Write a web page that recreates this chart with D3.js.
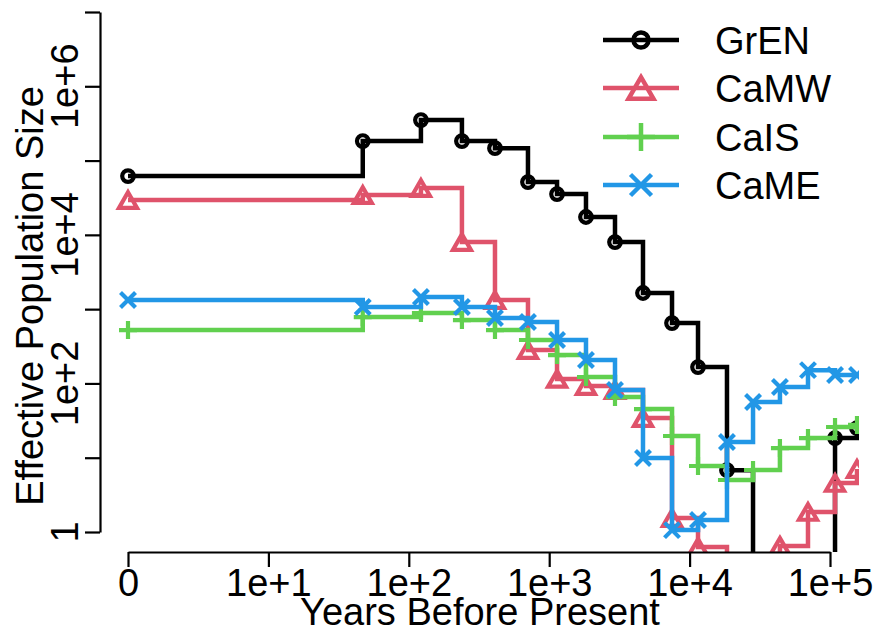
<!DOCTYPE html>
<html>
<head>
<meta charset="utf-8">
<script src="https://cdn.jsdelivr.net/npm/d3@7"></script>
<style>
  body { margin: 0; background: #fff; }
  text { font-family: "Liberation Sans", Arial, Helvetica, sans-serif; fill: #000; }
</style>
</head>
<body>
<svg id="chart" width="883" height="633"></svg>
<script>
// Time grid (years before present; the first step is plotted at 1 and labelled 0)
const years = [1, 47, 122, 239, 411, 706, 1137, 1828, 2942, 4656, 7495, 11480, 18460, 28300, 44000, 69700, 108600, 155700];

// Effective population size per population
const grEN = [61800, 183000, 351000, 183000, 147000, 51400, 35400, 17400, 8000, 1650, 650, 166, 6.8, 0.05, 0.05, 0.05, 18.4, 25];
const caMW = [29400, 34300, 42700, 8000, 1325, 282, 115, 92, 81.5, 34.2, 1.54, 0.63, 0.2, 0.2, 0.65, 1.86, 4.57, 7.05];
const caIS = [523, 783, 887, 713, 523, 384, 241, 122, 65.6, 45.2, 19.6, 7.73, 5.01, 6.83, 13.5, 18.4, 25.9, 27.6];
const caME = [1325, 1067, 1455, 1067, 760, 670, 384, 207, 81.5, 9.9, 1.06, 1.45, 16.3, 56.2, 89.5, 151, 130, 130];

const seriesNames = ["GrEN", "CaMW", "CaIS", "CaME"];
const seriesColors = ["#000000", "#DF536B", "#61D04F", "#2297E6"];
const seriesShapes = ["circle", "triangle", "plus", "cross"];
const seriesValues = [grEN, caMW, caIS, caME];

// Axis ticks
const xTicks = [1, 1e1, 1e2, 1e3, 1e4, 1e5];
const xTickLabels = ["0", "1e+1", "1e+2", "1e+3", "1e+4", "1e+5"];
const yTicks = [1, 1e1, 1e2, 1e3, 1e4, 1e5, 1e6, 1e7];
const yTickLabels = ["1", "", "1e+2", "", "1e+4", "", "1e+6", ""];

const FONT = 38;
const svg = d3.select("#chart");

const x = d3.scaleLog().domain([1, 1e5]).range([128, 830]);
const y = d3.scaleLog().domain([1, 1e7]).range([532, 12]);

const plotLeft = 100, plotRight = 859, plotTop = 0, plotBottom = 552;

svg.append("defs").append("clipPath").attr("id", "plot-clip")
  .append("rect")
  .attr("x", plotLeft).attr("y", plotTop)
  .attr("width", plotRight - plotLeft).attr("height", plotBottom - plotTop);

// Marker path generators
function markerPath(shape, s) {
  const p = d3.path();
  if (shape === "circle") {
    p.moveTo(s, 0); p.arc(0, 0, s, 0, Math.PI * 2);
  } else if (shape === "triangle") {
    const h = s * 1.732;
    p.moveTo(0, -h / 2); p.lineTo(s, h / 2); p.lineTo(-s, h / 2); p.closePath();
  } else if (shape === "plus") {
    p.moveTo(-s, 0); p.lineTo(s, 0); p.moveTo(0, -s); p.lineTo(0, s);
  } else {
    p.moveTo(-s, -s); p.lineTo(s, s); p.moveTo(-s, s); p.lineTo(s, -s);
  }
  return p.toString();
}
const plotMarkerSize = { circle: 5.8, triangle: 9, plus: 9, cross: 7.5 };
const legendMarkerSize = { circle: 7.5, triangle: 12.5, plus: 14, cross: 10.5 };

// Step lines and markers
const line = d3.line()
  .x((d, i) => x(years[i]))
  .y(d => y(d))
  .curve(d3.curveStepAfter);

const plot = svg.append("g").attr("clip-path", "url(#plot-clip)");
seriesValues.forEach((vals, k) => {
  const g = plot.append("g");
  g.append("path")
    .attr("d", line(vals))
    .attr("fill", "none")
    .attr("stroke", seriesColors[k])
    .attr("stroke-width", 4.5)
    .attr("stroke-linejoin", "miter");
  g.selectAll("path.pt")
    .data(vals)
    .join("path")
    .attr("class", "pt")
    .attr("transform", (d, i) => `translate(${x(years[i])},${y(d)})`)
    .attr("d", markerPath(seriesShapes[k], plotMarkerSize[seriesShapes[k]]))
    .attr("fill", "none")
    .attr("stroke", seriesColors[k])
    .attr("stroke-width", 4.2);
});

// X axis
const xAxis = svg.append("g")
  .attr("transform", `translate(0,${plotBottom})`)
  .call(d3.axisBottom(x).tickValues(xTicks)
    .tickFormat((d, i) => xTickLabels[i])
    .tickSize(15).tickSizeOuter(0).tickPadding(2));
xAxis.select(".domain").attr("stroke", "#000").attr("stroke-width", 2.2);
xAxis.selectAll(".tick line").attr("stroke", "#000").attr("stroke-width", 2.2);
xAxis.selectAll(".tick text").attr("font-size", FONT).attr("fill", "#000");

// Y axis with labels parallel to the axis
const yAxis = svg.append("g")
  .attr("transform", `translate(${plotLeft},0)`)
  .call(d3.axisLeft(y).tickValues(yTicks).tickFormat("")
    .tickSize(15).tickSizeOuter(0));
yAxis.select(".domain").attr("stroke", "#000").attr("stroke-width", 2.2);
yAxis.selectAll(".tick line").attr("stroke", "#000").attr("stroke-width", 2.2);
svg.append("g").selectAll("text")
  .data(yTicks.map((v, i) => ({ v, label: yTickLabels[i] })).filter(d => d.label))
  .join("text")
  .attr("transform", d => `translate(78,${y(d.v)}) rotate(-90)`)
  .attr("text-anchor", "middle")
  .attr("font-size", FONT)
  .text(d => d.label);

// Axis titles
svg.append("text")
  .attr("x", 480).attr("y", 625)
  .attr("text-anchor", "middle")
  .attr("font-size", FONT)
  .text("Years Before Present");
svg.append("text")
  .attr("transform", "translate(43,296) rotate(-90)")
  .attr("text-anchor", "middle")
  .attr("font-size", FONT)
  .text("Effective Population Size");

// Legend
const legendRows = [40, 88, 137, 185];
const legend = svg.append("g");
seriesNames.forEach((name, k) => {
  const ly = legendRows[k];
  legend.append("line")
    .attr("x1", 603).attr("x2", 679).attr("y1", ly).attr("y2", ly)
    .attr("stroke", seriesColors[k]).attr("stroke-width", 4.5);
  legend.append("path")
    .attr("transform", `translate(641,${ly})`)
    .attr("d", markerPath(seriesShapes[k], legendMarkerSize[seriesShapes[k]]))
    .attr("fill", "none")
    .attr("stroke", seriesColors[k])
    .attr("stroke-width", 4.5);
  legend.append("text")
    .attr("x", 715).attr("y", ly)
    .attr("dy", "0.36em")
    .attr("font-size", FONT)
    .text(name);
});
</script>
</body>
</html>
